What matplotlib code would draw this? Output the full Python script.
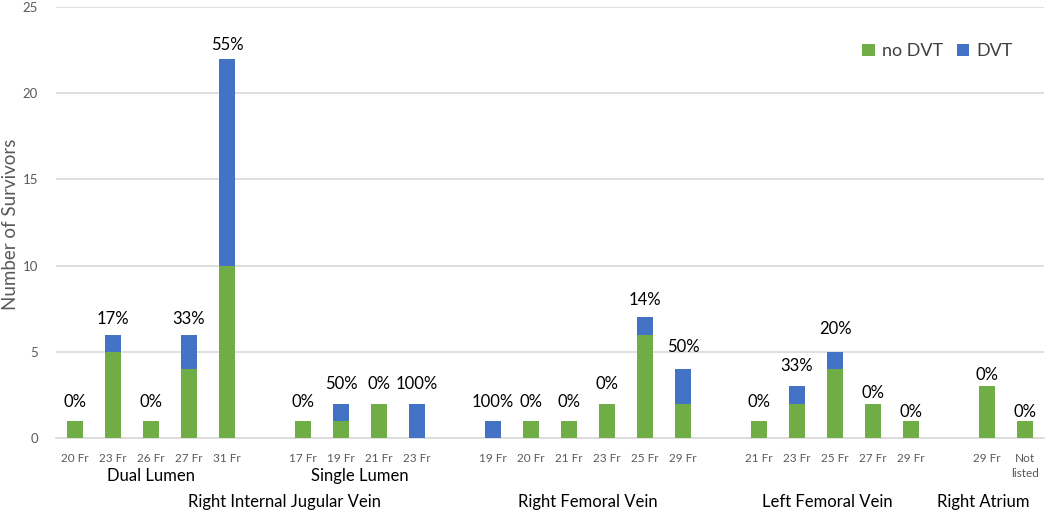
import matplotlib
matplotlib.use("Agg")
import matplotlib.pyplot as plt
import numpy as np

plt.rcParams['font.family'] = ['Lato', 'DejaVu Sans']

# ---- data ----
sizes = ["20 Fr", "23 Fr", "26 Fr", "27 Fr", "31 Fr", "",
         "17 Fr", "19 Fr", "21 Fr", "23 Fr", "",
         "19 Fr", "20 Fr", "21 Fr", "23 Fr", "25 Fr", "29 Fr", "",
         "21 Fr", "23 Fr", "25 Fr", "27 Fr", "29 Fr", "",
         "29 Fr", "Not\nlisted"]
no_dvt = [1, 5, 1, 4, 10, None,
          1, 1, 2, 0, None,
          0, 1, 1, 2, 6, 2, None,
          1, 2, 4, 2, 1, None,
          3, 1]
dvt = [0, 1, 0, 2, 12, None,
       0, 1, 0, 2, None,
       1, 0, 0, 0, 1, 2, None,
       0, 1, 1, 0, 0, None,
       0, 0]
pct_labels = ["0%", "17%", "0%", "33%", "55%", None,
              "0%", "50%", "0%", "100%", None,
              "100%", "0%", "0%", "0%", "14%", "50%", None,
              "0%", "33%", "20%", "0%", "0%", None,
              "0%", "0%"]
subgroups = ["Dual Lumen", "Single Lumen"]
groups = ["Right Internal Jugular Vein", "Right Femoral Vein",
          "Left Femoral Vein", "Right Atrium"]

# ---- styling / layout (not data) ----
label_offsets_px = [19, 16, 19, 16, 14, 0,
                    19, 20, 20, 20, 0,
                    19, 19, 19, 20, 17, 22, 0,
                    19, 20, 23, 11, 9, 0,
                    11, 9]
subgroup_x = [2, 7.5]
group_x = [5.5, 13.5, 19.8, 23.9]

green = "#70AD47"
blue = "#4472C4"
grid_c = "#D9D9D9"
tick_c = "#595959"

W, H = 1049, 515
fig = plt.figure(figsize=(W / 100, H / 100), dpi=100)
ax_l, ax_r, ax_t, ax_b = 56, 1044, 7, 438
ax = fig.add_axes([ax_l / W, 1 - ax_b / H, (ax_r - ax_l) / W, (ax_b - ax_t) / H])

x = np.arange(len(sizes))
idx = [i for i in range(len(sizes)) if no_dvt[i] is not None]
g = np.array([no_dvt[i] for i in idx], dtype=float)
b = np.array([dvt[i] for i in idx], dtype=float)
xi = x[idx]
bw = 0.4
ax.bar(xi, g, width=bw, color=green, label="no DVT", zorder=3)
ax.bar(xi, b, width=bw, bottom=g, color=blue, label="DVT", zorder=3)

for k, i in enumerate(idx):
    total = g[k] + b[k]
    ax.annotate(pct_labels[i], (x[i], total), xytext=(0, label_offsets_px[i] * 0.72),
                textcoords="offset points", ha="center", va="center",
                fontsize=12, color="#000000", zorder=4)

ax.set_xlim(-0.5, len(sizes) - 0.5)
ax.set_ylim(0, 25)
ax.set_yticks([0, 5, 10, 15, 20, 25])
ax.yaxis.grid(True, color=grid_c, lw=1.2, zorder=0)
ax.set_axisbelow(True)
for s in ["top", "right", "left"]:
    ax.spines[s].set_visible(False)
ax.spines["bottom"].set_color(grid_c)
ax.spines["bottom"].set_linewidth(1.2)

ax.set_xticks(xi)
ax.set_xticklabels([sizes[i] for i in idx], fontsize=8.5, color=tick_c,
                   linespacing=1.45, va="top")
ax.tick_params(axis="x", length=0, pad=11)
ax.tick_params(axis="y", length=0, pad=13, labelsize=9.5, labelcolor=tick_c)

tr = ax.get_xaxis_transform()
def ypx(py):
    return (ax_b - py) / (ax_b - ax_t)

ax.set_ylabel("Number of Survivors", fontsize=13.5, color=tick_c)
ax.yaxis.set_label_coords((11 - ax_l) / (ax_r - ax_l), ypx(224))
ax.yaxis.label.set_va("center")

for name, xc in zip(subgroups, subgroup_x):
    ax.text(xc, ypx(476), name, transform=tr, ha="center", va="center",
            fontsize=12, color="#000000", clip_on=False)
for name, xc in zip(groups, group_x):
    ax.text(xc, ypx(502), name, transform=tr, ha="center", va="center",
            fontsize=12, color="#000000", clip_on=False)

leg = ax.legend(loc="upper right", bbox_to_anchor=((1020 - ax_l) / (ax_r - ax_l), ypx(36)),
                ncol=2, frameon=False, fontsize=13, handlelength=0.7, handleheight=0.7,
                handletextpad=0.4, columnspacing=0.75, borderaxespad=0)
for t in leg.get_texts():
    t.set_color("#404040")

fig.savefig("out.png", dpi=100)
